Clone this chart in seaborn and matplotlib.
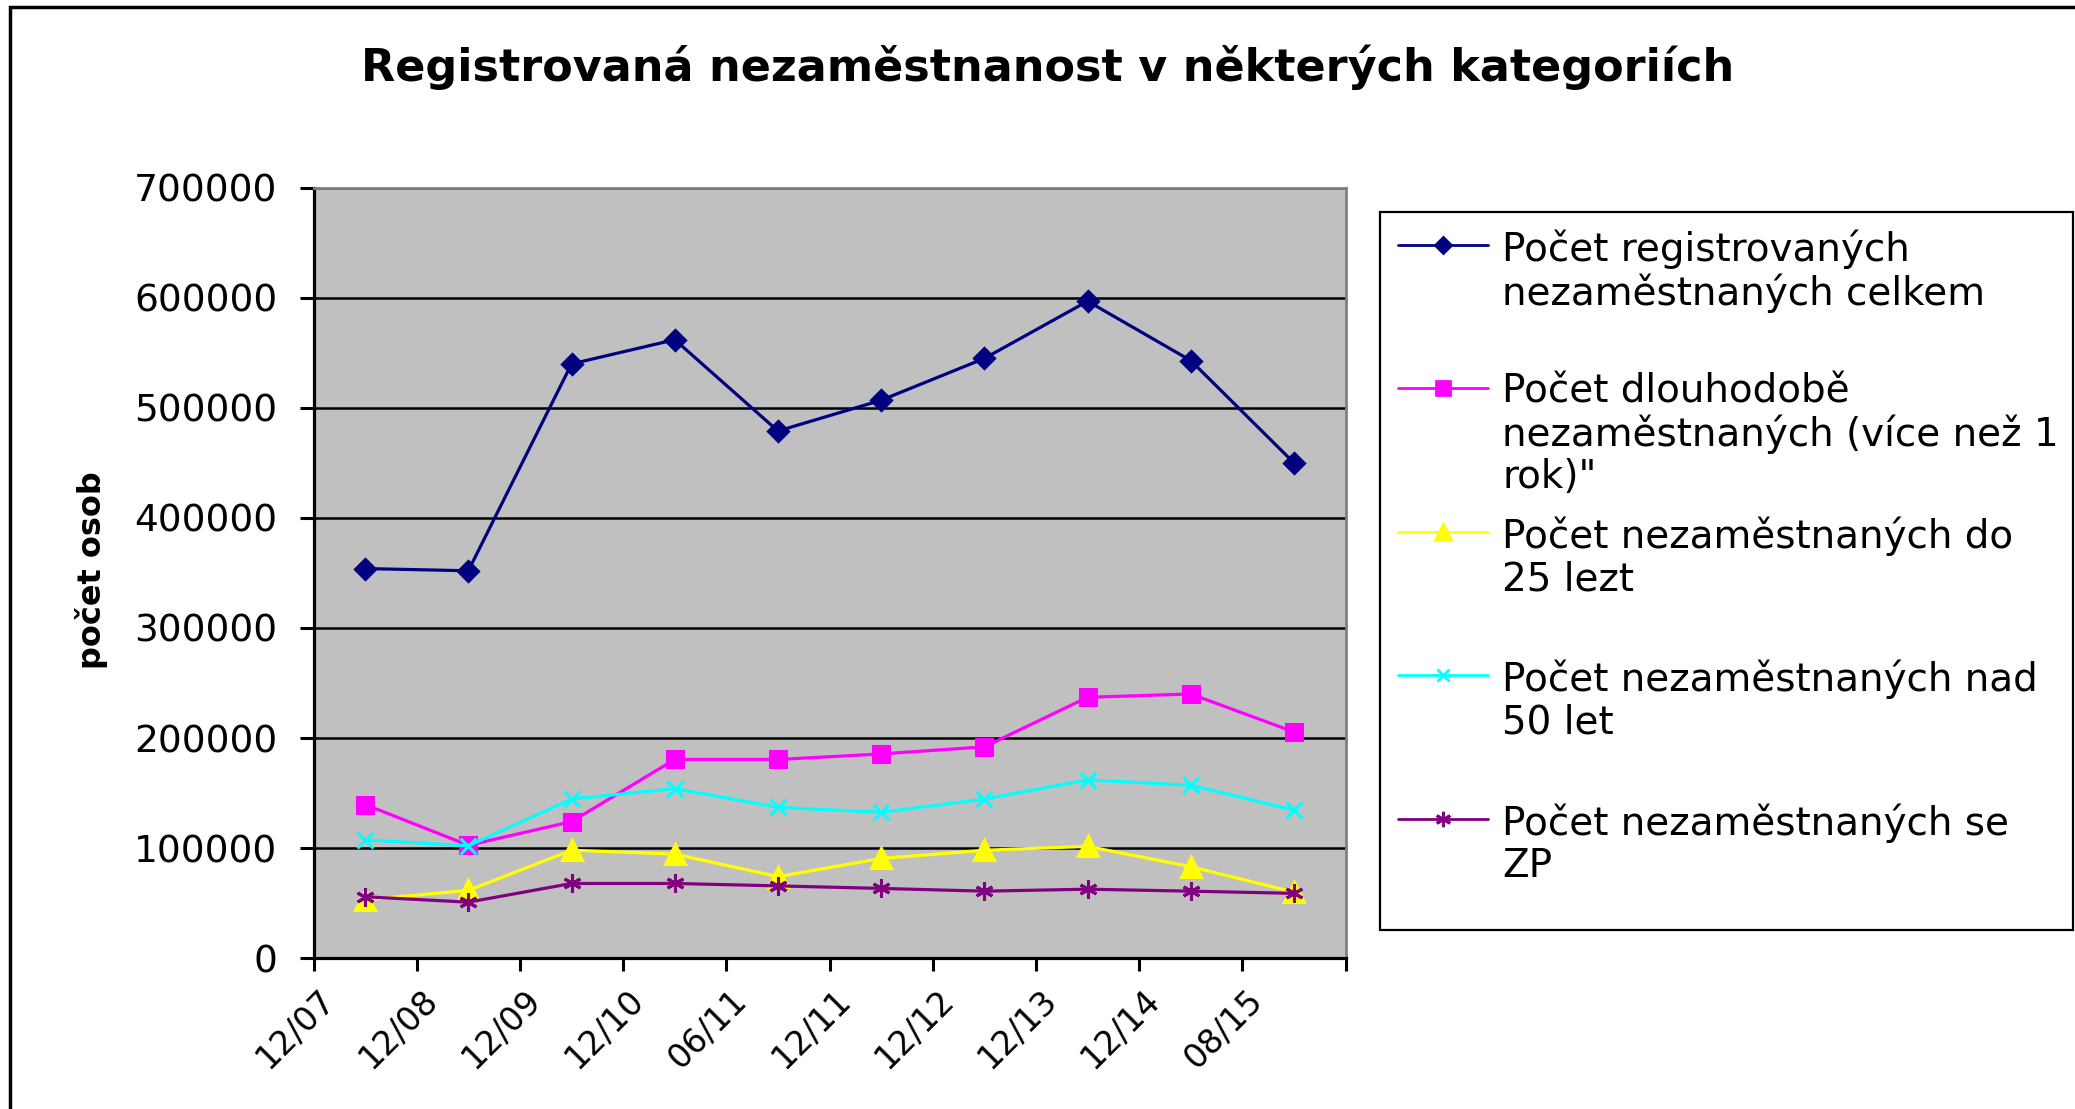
import numpy as np
import matplotlib
matplotlib.use("Agg")
import matplotlib.pyplot as plt
import matplotlib.transforms as mtransforms
from matplotlib.lines import Line2D
from matplotlib.patches import Rectangle
import seaborn as sns

# ── Data ────────────────────────────────────────────────────
obdobi = ['12/07', '12/08', '12/09', '12/10', '06/11',
          '12/11', '12/12', '12/13', '12/14', '08/15']
celkem = [354000, 352000, 540000, 562000, 479000,
          507000, 545000, 597000, 543000, 450000]
dlouhodobe = [139500, 102500, 124000, 180500, 180500,
              185500, 192000, 237000, 240000, 205500]
do_25 = [53000, 61500, 98000, 94500, 74000,
         90500, 98000, 101500, 83000, 60000]
nad_50 = [107500, 102000, 144500, 154000, 137000,
          132500, 144500, 162000, 157000, 134500]
se_zp = [55700, 50800, 67800, 67800, 65600,
         63300, 60800, 62600, 60800, 58800]

nazvy = ['Počet registrovaných\nnezaměstnaných celkem',
         'Počet dlouhodobě\nnezaměstnaných (více než 1\nrok)"',
         'Počet nezaměstnaných do\n25 lezt',
         'Počet nezaměstnaných nad\n50 let',
         'Počet nezaměstnaných se\nZP']

# ── Style ────────────────────────────────────────────────────
sns.set_style('white')
plt.rcParams['font.family'] = ['DejaVu Sans']
plt.rcParams['text.color'] = 'black'
plt.rcParams['axes.labelcolor'] = 'black'
plt.rcParams['xtick.color'] = 'black'
plt.rcParams['ytick.color'] = 'black'

serie = [celkem, dlouhodobe, do_25, nad_50, se_zp]
barvy = ['#000080', '#FF00FF', '#FFFF00', '#00FFFF', '#800080']
znacky = ['D', 's', '^', 'x', (6, 2, 0)]
velikosti = [10, 12, 14, 11, 13]

fig = plt.figure(figsize=(20.75, 11.09), dpi=100)
ax = fig.add_axes([0.1511, 0.1361, 0.4974, 0.6945])
ax.set_facecolor('#C0C0C0')

pozice = np.arange(len(obdobi))
for hodnoty, barva, znacka, ms in zip(serie, barvy, znacky, velikosti):
    sns.lineplot(x=pozice, y=hodnoty, ax=ax, color=barva, marker=znacka,
                 markersize=ms, markeredgecolor=barva, markerfacecolor=barva,
                 markeredgewidth=2.2, linewidth=2.3, sort=False, zorder=3)

# ── Axes ─────────────────────────────────────────────────────
ax.set_xlim(-0.5, len(obdobi) - 0.5)
ax.set_ylim(0, 700000)
ax.set_yticks(range(0, 700001, 100000))
ax.set_yticklabels([str(v) for v in range(0, 700001, 100000)])
ax.yaxis.grid(True, color='black', linewidth=1.8)
ax.set_axisbelow(True)

ax.set_xticks(np.arange(-0.5, len(obdobi)), labels=[''] * (len(obdobi) + 1))
ax.set_xticks(pozice, labels=obdobi, minor=True)
ax.tick_params(axis='x', which='major', direction='out', length=9.5,
               width=2.2, color='black', bottom=True)
ax.tick_params(axis='x', which='minor', length=0, pad=18, labelsize=24,
               labelrotation=45, bottom=True)
for lbl in ax.get_xticklabels(minor=True):
    lbl.set_ha('right')
    lbl.set_va('top')
    lbl.set_transform(lbl.get_transform() +
                      mtransforms.ScaledTranslation(-0.24, 0, fig.dpi_scale_trans))
ax.tick_params(axis='y', direction='out', length=10, width=2.2,
               pad=16, labelsize=27, left=True, color='black')

for side in ['left', 'bottom']:
    ax.spines[side].set_color('black')
    ax.spines[side].set_linewidth(2.3)
for side in ['top', 'right']:
    ax.spines[side].set_color('#808080')
    ax.spines[side].set_linewidth(2.0)

ax.set_xlabel('')
ax.set_ylabel('počet osob', fontsize=23, fontweight='bold')
ax.yaxis.set_label_coords(-0.199, 0.504)

# ── Title ────────────────────────────────────────────────────
fig.text(0.505, 0.939, 'Registrovaná nezaměstnanost v některých kategoriích',
         ha='center', va='center', fontsize=32, fontweight='bold')

# ── Legend (Excel-style, key aligned with first text line) ───
fig.patches.append(Rectangle((0.6651, 0.1614), 0.3339, 0.6474,
                             transform=fig.transFigure, fill=True,
                             facecolor='white', edgecolor='black',
                             linewidth=1.6, zorder=1))
leg_y = [0.7793, 0.6504, 0.5203, 0.3914, 0.2614]
for nazev, barva, znacka, ms, y in zip(nazvy, barvy, znacky, velikosti, leg_y):
    klic = Line2D([0.6737, 0.6955, 0.7173], [y, y, y], transform=fig.transFigure,
                  color=barva, linewidth=2.0, marker=znacka, markevery=[1],
                  markersize=ms * 0.85, markerfacecolor=barva,
                  markeredgecolor=barva, markeredgewidth=2.0)
    fig.add_artist(klic)
    fig.text(0.7240, y + 0.0139, nazev, ha='left', va='top',
             fontsize=28, linespacing=1.14)

# ── Outer chart border ───────────────────────────────────────
fig.patches.append(Rectangle((0.0048, -0.05), 1.2, 0.9987 + 0.05 - 0.005,
                             transform=fig.transFigure, fill=False,
                             edgecolor='black', linewidth=2.5))

plt.savefig('out.png', dpi=100)
